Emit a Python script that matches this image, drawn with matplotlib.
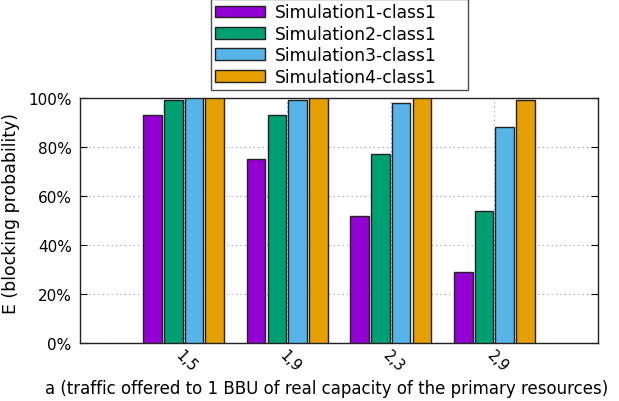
import numpy as np
import matplotlib
matplotlib.use("Agg")
import matplotlib.pyplot as plt
from matplotlib.ticker import PercentFormatter

# traffic values (group labels) and blocking probability per simulation, in %
groups = ["1,5", "1,9", "2,3", "2,9"]
sim1 = [93, 75, 52, 29]
sim2 = [99, 93, 77, 54]
sim3 = [100, 99, 98, 88]
sim4 = [100, 100, 100, 99]

series = [sim1, sim2, sim3, sim4]
names = ["Simulation1-class1", "Simulation2-class1",
         "Simulation3-class1", "Simulation4-class1"]
colors = ["#9400d3", "#009e73", "#56b4e9", "#e69f00"]

plt.rcParams["font.family"] = ["DejaVu Sans"]

fig = plt.figure(figsize=(6.19, 4.02), dpi=100)
ax = fig.add_axes([80 / 619, 1 - 344 / 402, 518 / 619, 245 / 402])

x = np.arange(len(groups))
width = 0.18
for i, (vals, name, col) in enumerate(zip(series, names, colors)):
    ax.bar(x + (i - 1.5) * 0.2, vals, width, color=col, edgecolor="#222222",
           linewidth=1.0, label=name, zorder=3)

ax.set_xlim(-1, 4)
ax.set_ylim(0, 100)
ax.set_yticks(np.arange(0, 101, 20))
ax.yaxis.set_major_formatter(PercentFormatter(decimals=0))
ax.set_xticks(x)
ax.set_xticklabels(groups, rotation=-45, ha="left", va="top",
                   rotation_mode="anchor", fontsize=10.5)
ax.tick_params(axis="y", direction="in", right=True, labelsize=11, length=5, pad=6)
ax.tick_params(axis="x", direction="in", length=0, pad=3)
ax.grid(True, linestyle=(0, (1, 3)), color="#999999", linewidth=0.8, zorder=0)
for sp in ax.spines.values():
    sp.set_color("#222222")
    sp.set_linewidth(1.0)

ax.set_ylabel("E (blocking probability)", fontsize=12.4)
ax.yaxis.set_label_coords(-(80 - 20) / 518, (344 - 213) / 245)
ax.set_xlabel("a (traffic offered to 1 BBU of real capacity of the primary resources)",
              fontsize=12, va="center")
ax.xaxis.set_label_coords((327 - 80) / 518, -(389 - 344) / 245)

leg = fig.legend(loc="lower left", bbox_to_anchor=(211 / 619, 1 - 91 / 402, 257 / 619, 0.1),
                 mode="expand", frameon=True, fancybox=False, fontsize=12.3,
                 handlelength=2.9, handleheight=0.7, handletextpad=0.6,
                 labelspacing=0.2, borderaxespad=0, borderpad=0.25)
leg.get_frame().set_edgecolor("#222222")
leg.get_frame().set_linewidth(1.0)

fig.savefig("out.png", dpi=100)
